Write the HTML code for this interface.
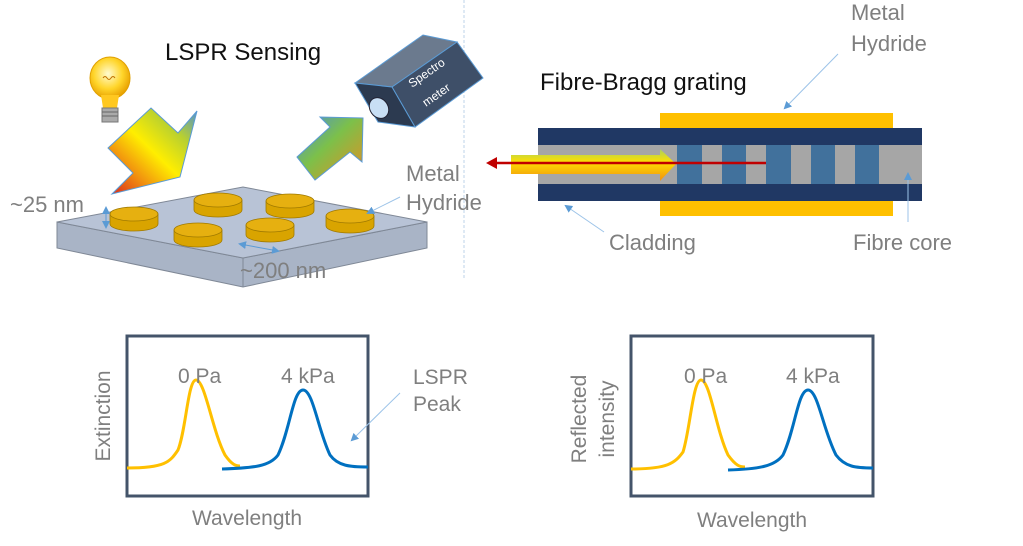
<!DOCTYPE html>
<html><head><meta charset="utf-8"><style>
html,body{margin:0;padding:0;background:#fff}
svg{display:block}
text{font-family:"Liberation Sans",sans-serif}
</style></head><body>
<svg width="1023" height="546" viewBox="0 0 1023 546" xmlns="http://www.w3.org/2000/svg">
<defs>
<linearGradient id="g1" x1="0" y1="1" x2="1" y2="0">
<stop offset="0" stop-color="#d9231e"/><stop offset="0.25" stop-color="#f08a10"/><stop offset="0.5" stop-color="#ffee00"/><stop offset="0.75" stop-color="#b8d030"/><stop offset="1" stop-color="#4a90d9"/></linearGradient>
<linearGradient id="g2" x1="0" y1="0" x2="1" y2="1">
<stop offset="0" stop-color="#4a8fd6"/><stop offset="0.45" stop-color="#7cc04a"/><stop offset="0.8" stop-color="#c0a030"/><stop offset="1" stop-color="#d4201e"/></linearGradient>
<linearGradient id="g3" x1="0" y1="0" x2="0" y2="1">
<stop offset="0" stop-color="#a8d060"/><stop offset="0.4" stop-color="#ffe000"/><stop offset="1" stop-color="#f09010"/></linearGradient>
<radialGradient id="bulb" cx="0.45" cy="0.4" r="0.6"><stop offset="0" stop-color="#fffbd0"/><stop offset="0.6" stop-color="#ffd52a"/><stop offset="1" stop-color="#e8a000"/></radialGradient>
<marker id="ab" markerWidth="8" markerHeight="8" refX="6" refY="4" orient="auto"><path d="M0,0 L8,4 L0,8 z" fill="#5b9bd5"/></marker>
<marker id="ab2" markerWidth="8" markerHeight="8" refX="6" refY="4" orient="auto-start-reverse"><path d="M0,0 L8,4 L0,8 z" fill="#5b9bd5"/></marker>
<g id="d" stroke="#a07a00" stroke-width="0.8"><path d="M-24,0 v10 a24,7 0 0 0 48,0 v-10z" fill="#d9a400"/><ellipse cx="0" cy="0" rx="24" ry="7" fill="#e6b010"/></g>
</defs>

<line x1="464" y1="0" x2="464" y2="278" stroke="#bcd3ea" stroke-width="1" stroke-dasharray="3,2"/>

<text x="165" y="60" font-size="24" fill="#111">LSPR Sensing</text>

<!-- bulb -->
<ellipse cx="110" cy="78" rx="20" ry="21" fill="url(#bulb)" stroke="#e0a000"/>
<path d="M101,95 L119,95 L117,108 L103,108z" fill="#ffc820"/>
<rect x="102" y="108" width="16" height="14" fill="#aaa" stroke="#777"/>
<path d="M102,112 H118 M102,116 H118" stroke="#666"/>
<path d="M103,78 q2,-3 4,0 q2,3 4,0 q2,-3 4,0" stroke="#c07000" fill="none"/>

<polygon points="151,108 178,133 197,111 180,177 112,194 133,173 108,148" fill="url(#g1)" stroke="#5b9bd5" stroke-width="1"/>
<polygon points="297,157 330,127 320,117 363,118 362,162 350,152 315,180" fill="url(#g2)" stroke="#5b9bd5" stroke-width="1"/>

<!-- spectrometer -->
<polygon points="355,83 423,35 457,42 392,87" fill="#6b7a8e" stroke="#5b9bd5"/>
<polygon points="392,87 457,42 483,78 415,127" fill="#3e4f68" stroke="#5b9bd5"/>
<polygon points="355,83 392,87 415,127 378,122" fill="#2c3a50" stroke="#5b9bd5"/>
<ellipse cx="379" cy="108" rx="9" ry="11" fill="#c8dff5" stroke="#223" transform="rotate(-35 379 108)"/>
<text x="0" y="0" font-size="12" fill="#fff" transform="translate(412,88) rotate(-35)">Spectro</text>
<text x="0" y="0" font-size="12" fill="#fff" transform="translate(426,107) rotate(-35)">meter</text>

<!-- slab -->
<polygon points="57,222 57,248 243,287 427,248 427,222 243,258" fill="#a9b4c6" stroke="#7f8896"/>
<polygon points="57,222 243,187 427,222 243,258" fill="#b8c3d6" stroke="#7f8896"/>
<line x1="243" y1="258" x2="243" y2="287" stroke="#7f8896"/>
<use href="#d" transform="translate(134,214)"/>
<use href="#d" transform="translate(218,200)"/>
<use href="#d" transform="translate(290,201)"/>
<use href="#d" transform="translate(350,216)"/>
<use href="#d" transform="translate(198,230)"/>
<use href="#d" transform="translate(270,225)"/>
<line x1="106" y1="208" x2="106" y2="227" stroke="#5b9bd5" marker-end="url(#ab)" marker-start="url(#ab2)"/>
<line x1="240" y1="244" x2="278" y2="251" stroke="#5b9bd5" marker-end="url(#ab)" marker-start="url(#ab2)"/>
<line x1="400" y1="197" x2="368" y2="213" stroke="#9cc3e8" marker-end="url(#ab)"/>
<g font-size="22" fill="#7f7f7f">
<text x="10" y="212">~25 nm</text>
<text x="240" y="278">~200 nm</text>
<text x="406" y="181">Metal</text>
<text x="406" y="210">Hydride</text>
</g>

<!-- FBG -->
<text x="540" y="90" font-size="24" fill="#111">Fibre-Bragg grating</text>
<g font-size="22" fill="#7f7f7f">
<text x="851" y="20">Metal</text>
<text x="851" y="51">Hydride</text>
<text x="609" y="250">Cladding</text>
<text x="853" y="250">Fibre core</text>
</g>
<rect x="660" y="113" width="233" height="103" fill="#ffc000"/>
<rect x="538" y="128" width="384" height="17" fill="#203864"/>
<rect x="538" y="145" width="384" height="39" fill="#a6a6a6"/>
<rect x="538" y="184" width="384" height="17" fill="#203864"/>
<g fill="#41719c">
<rect x="677" y="145" width="25" height="39"/><rect x="722" y="145" width="24" height="39"/>
<rect x="766" y="145" width="25" height="39"/><rect x="811" y="145" width="24" height="39"/>
<rect x="855" y="145" width="24" height="39"/></g>
<polygon points="511,155 660,155 660,149 676,164 660,181 660,174 511,174" fill="url(#g3)"/>
<line x1="766" y1="163" x2="494" y2="163" stroke="#c00000" stroke-width="2.5"/>
<polygon points="486,163 497,157 497,169" fill="#c00000"/>
<line x1="838" y1="54" x2="785" y2="108" stroke="#9cc3e8" marker-end="url(#ab)"/>
<line x1="604" y1="232" x2="566" y2="206" stroke="#9cc3e8" marker-end="url(#ab)"/>
<line x1="908" y1="222" x2="908" y2="174" stroke="#9cc3e8" marker-end="url(#ab)"/>

<!-- plot 1 -->
<rect x="127" y="336" width="241" height="160" fill="none" stroke="#44546a" stroke-width="3"/>
<path d="M127,468 C165,468 170,462 178,450 C186,430 188,380 196,380 C205,380 212,430 225,455 C232,465 236,466 240,466" fill="none" stroke="#ffc000" stroke-width="3"/>
<path d="M222,469 C255,468 270,466 278,455 C290,430 293,390 303,390 C313,390 318,430 330,455 C338,466 350,467 368,467" fill="none" stroke="#0070c0" stroke-width="3"/>
<g font-size="21" fill="#7f7f7f">
<text x="178" y="383">0 Pa</text>
<text x="281" y="383">4 kPa</text>
<text x="413" y="384">LSPR</text>
<text x="413" y="411">Peak</text>
<text x="247" y="525" text-anchor="middle">Wavelength</text>
<text x="0" y="0" text-anchor="middle" transform="translate(110,416) rotate(-90)">Extinction</text>
</g>
<line x1="400" y1="393" x2="352" y2="440" stroke="#9cc3e8" marker-end="url(#ab)"/>

<!-- plot 2 -->
<rect x="631" y="336" width="242" height="160" fill="none" stroke="#44546a" stroke-width="3"/>
<path d="M631,469 C668,469 675,463 683,452 C690,430 693,380 701,380 C710,380 716,430 728,455 C736,466 740,467 745,467" fill="none" stroke="#ffc000" stroke-width="3"/>
<path d="M728,470 C760,469 775,466 783,455 C795,430 798,390 808,390 C818,390 823,430 836,455 C845,467 856,468 873,468" fill="none" stroke="#0070c0" stroke-width="3"/>
<g font-size="21" fill="#7f7f7f">
<text x="684" y="383">0 Pa</text>
<text x="786" y="383">4 kPa</text>
<text x="752" y="527" text-anchor="middle">Wavelength</text>
<text x="0" y="0" text-anchor="middle" transform="translate(586,419) rotate(-90)">Reflected</text>
<text x="0" y="0" text-anchor="middle" transform="translate(614,419) rotate(-90)">intensity</text>
</g>
</svg>
</body></html>
